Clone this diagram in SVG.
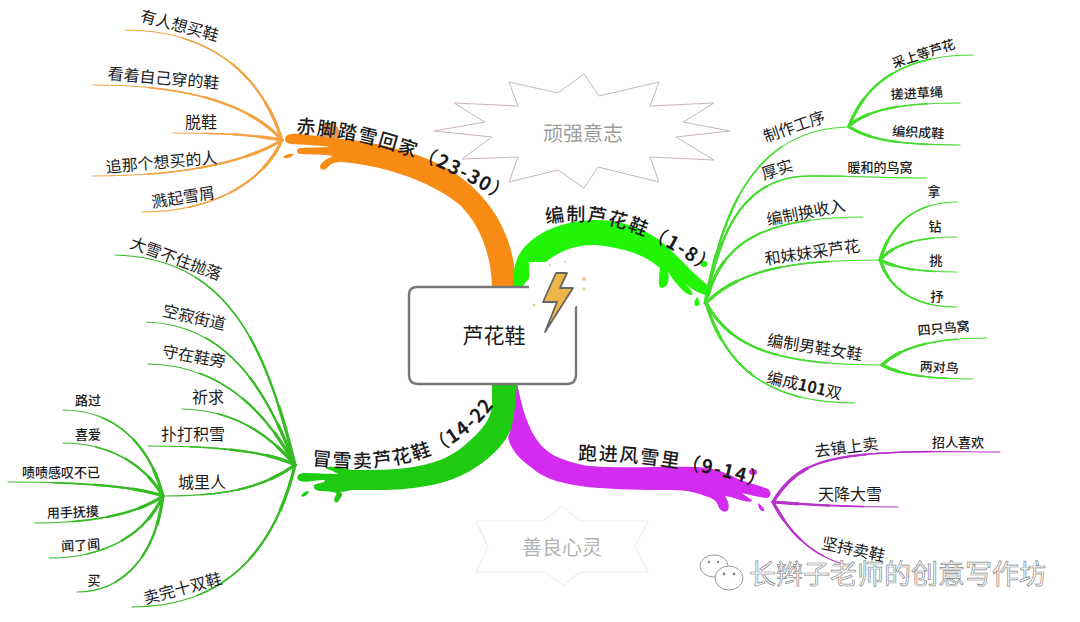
<svg xmlns="http://www.w3.org/2000/svg" xmlns:xlink="http://www.w3.org/1999/xlink" width="1080" height="622" viewBox="0 0 1080 622">
<style>
text{font-family:"Noto Sans CJK SC","Noto Sans CJK JP",sans-serif;fill:#1c1c1c;text-anchor:middle}
.l{font-size:16px}
.s{font-size:13px;font-weight:500}
.m{font-size:19px;font-weight:500;text-anchor:start;letter-spacing:1.5px}
.tree path{fill:none;stroke-linecap:round}
.base{stroke-width:1.1}
.t1{stroke-width:1.6;stroke-dasharray:72 200}
.t2{stroke-width:2.3;stroke-dasharray:45 200}
.t3{stroke-width:3.2;stroke-dasharray:20 200}
.cg{stroke:#45dc2e}.cd{stroke:#36bb24}.co{stroke:#f2a445}.cp{stroke:#b833cc}
.star{fill:#fff;stroke-linejoin:miter}
.wm{font-size:27px;fill:#fff;stroke:#8a8a8a;stroke-width:.7;text-anchor:start}
</style>
<defs>
<path id="pO" d="M296,133 Q400,138 500,200"/>
<path id="pG" d="M546,224 Q622,208 712,277"/>
<path id="pD" d="M312,465 C370,472 445,470 492,408"/>
<path id="pP" d="M578,460 Q670,460 756,486"/>
</defs>
<rect width="1080" height="622" fill="#fff"/>
<g id="decor-star1">
<polygon class="star" stroke="#c9b4bc" stroke-width="1" points="584,74 599,96 659,82 650,106 714,103 683,122 730,131 676,137 714,160 650,157 659,182 598,167 584,188 558,170 509,182 518,157 462,159 492,137 434,131 485,122 454,103 518,106 509,82 558,93"/>
<text x="583" y="141" font-size="20" style="fill:#9c9c9c;font-size:20px">顽强意志</text>
</g>
<g id="decor-star2">
<polygon class="star" stroke="#ecece6" stroke-width="1" points="562,506 580,521 648,521 635,547 648,572 580,572 563,585 545,572 476,572 488,547 476,521 543,521"/>
<text x="562" y="555" style="fill:#b4b4b4;font-size:20px">善良心灵</text>
</g>
<g id="connectors">
<g class="tree">
<g class="base cg"><g id="tG">
<path pathLength="100" d="M705,303 C718,240 740,130 847,127"/>
<path pathLength="100" d="M849,126 C865,85 900,55 973,55"/>
<path pathLength="100" d="M849,126 C870,108 905,103 960,103"/>
<path pathLength="100" d="M849,127 C870,140 900,145 960,145"/>
<path pathLength="100" d="M706,300 C722,220 750,176 810,176 S880,178 927,178"/>
<path pathLength="100" d="M708,296 C722,245 760,217 863,217"/>
<path pathLength="100" d="M707,302 C740,270 790,260 880,260"/>
<path pathLength="100" d="M880,260 C890,225 915,202 957,202"/>
<path pathLength="100" d="M880,260 C895,243 920,237 957,237"/>
<path pathLength="100" d="M880,260 C895,268 920,272 957,272"/>
<path pathLength="100" d="M880,260 C890,290 915,307 957,307"/>
<path pathLength="100" d="M706,303 C730,345 770,365 882,365"/>
<path pathLength="100" d="M882,365 C900,348 930,338 987,338"/>
<path pathLength="100" d="M882,365 C900,375 930,379 973,379"/>
<path pathLength="100" d="M706,303 C725,365 765,403 855,403"/>
</g></g>
<use href="#tG" class="t1 cg"/><use href="#tG" class="t2 cg"/><use href="#tG" class="t3 cg"/>
<g class="base cd"><g id="tD">
<path pathLength="100" d="M295,465 C265,340 225,258 115,255"/>
<path pathLength="100" d="M295,465 C265,385 225,325 147,322"/>
<path pathLength="100" d="M295,465 C265,410 220,365 148,364"/>
<path pathLength="100" d="M295,465 C265,430 230,410 182,409"/>
<path pathLength="100" d="M295,465 C265,450 210,446 148,446"/>
<path pathLength="100" d="M295,465 C260,490 220,496 163,496"/>
<path pathLength="100" d="M295,465 C275,550 225,607 132,607"/>
<path pathLength="100" d="M163,496 C150,445 115,410 63,410"/>
<path pathLength="100" d="M163,496 C145,465 110,443 63,443"/>
<path pathLength="100" d="M163,496 C130,485 70,482 8,482"/>
<path pathLength="100" d="M163,496 C135,515 90,523 35,523"/>
<path pathLength="100" d="M163,496 C145,535 105,558 49,558"/>
<path pathLength="100" d="M163,496 C155,560 120,592 77,592"/>
</g></g>
<use href="#tD" class="t1 cd"/><use href="#tD" class="t2 cd"/><use href="#tD" class="t3 cd"/>
<g class="base co"><g id="tO">
<path pathLength="100" d="M282,140 C260,70 205,30 125,30"/>
<path pathLength="100" d="M282,140 C250,105 190,85 93,85"/>
<path pathLength="100" d="M282,140 C250,134 210,133 173,133"/>
<path pathLength="100" d="M282,140 C250,160 190,176 93,176"/>
<path pathLength="100" d="M282,140 C265,180 215,212 142,212"/>
</g></g>
<use href="#tO" class="t1 co"/><use href="#tO" class="t2 co"/><use href="#tO" class="t3 co"/>
<g class="base cp"><g id="tP">
<path pathLength="100" d="M773,502 C795,465 825,458 870,454 S950,452 1000,452"/>
<path pathLength="100" d="M773,502 C810,505 850,507 898,507"/>
<path pathLength="100" d="M773,502 C790,535 815,558 850,566"/>
</g></g>
<use href="#tP" class="t1 cp"/><use href="#tP" class="t2 cp"/><use href="#tP" class="t3 cp"/>
</g>
</g>
<g id="branch-orange">
<path fill="#f78b14" d="M516,290 C516,235 490,195 450,170 C420,152 370,140 330,138 C315,136 300,133 291,134 C283,135 283,143 291,144 C303,145 318,145 330,147 L300,148 C296,149 296,153 300,154 C312,155 325,154 333,156 C326,159 320,163 320,167 C321,171 326,170 328,167 C331,163 336,162 342,162 C380,165 430,180 460,205 C480,225 492,255 492,290 Z"/>
<path fill="#f78b14" d="M283,157 C286,154 291,153 294,154 C292,157 286,160 283,157 Z"/>
<path fill="#d9701c" opacity=".75" d="M322,124 C330,120 338,124 339,131 L339,139 L322,137 Z"/>
<text class="m" letter-spacing="1.5"><textPath href="#pO">赤脚踏雪回家（<tspan font-weight="700">23-30</tspan>）</textPath></text>
</g>
<g id="branch-green">
<path fill="#22f406" d="M513,290 C513,270 515,260 522,250 C540,228 570,220 597,220 C625,220 650,232 663,243 C680,258 695,276 710,287 C712,292 710,296 706,295 C698,293 692,290 684,282 C690,288 694,294 692,295 C686,296 676,284 668,272 C670,280 668,287 662,288 C657,287 659,278 660,268 C652,262 640,250 597,245 C570,244 545,255 520,290 Z"/>
<path fill="#22f406" d="M697,297 C700,301 700,306 697,306 C693,306 694,301 697,297 Z"/>
<ellipse cx="704" cy="264" rx="3.5" ry="3" fill="#22f406"/>
<text class="m"><textPath href="#pG">编制芦花鞋（<tspan font-weight="700">1-8</tspan>）</textPath></text>
</g>
<g id="branch-darkgreen">
<path fill="#1fcb11" d="M492,380 L517,380 L517,403 C517,420 510,437 495,452 C475,472 450,483 420,487 C395,491 375,490 353,490 C345,491 350,491 340,492 C345,494 340,498 338,502 C334,504 333,499 336,495 C338,492 333,492 322,491 C313,491 312,486 316,484 C322,483 325,482 325,480 C315,480 305,483 300,481 C295,478 297,473 305,473 C315,473 325,474 338,474 C332,470 328,470 326,468 C328,465 338,468 353,470 C375,470 395,470 413,467 C435,463 450,458 465,445 C480,432 492,420 492,403 Z"/>
<path fill="#1fcb11" d="M301,496 C303,492 307,491 309,491 C308,495 303,498 301,496 Z"/>
<text class="m"><textPath href="#pD">冒雪卖芦花鞋（<tspan font-weight="700">14-22</tspan>）</textPath></text>
</g>
<g id="branch-purple">
<path fill="#d32cf0" d="M517,382 C521,405 526,420 532,432 C540,447 550,455 565,460 C580,465 590,467 610,467 C640,468 670,466 697,467 C715,468 725,472 738,479 C748,483 762,486 768,489 C772,492 771,498 766,498 C758,497 750,495 742,493 C745,496 752,499 752,501 C748,504 735,497 725,496 C728,501 730,505 728,510 C724,514 719,510 718,505 C716,500 712,498 705,496 C690,490 680,490 660,490 C630,490 610,489 587,487 C565,484 545,480 532,468 C518,458 510,448 508,437 C514,425 516,400 517,382 Z"/>
<path fill="#d32cf0" d="M758,503 C761,505 765,509 764,511 C761,512 758,508 758,503 Z"/>
<ellipse cx="753" cy="472" rx="4" ry="3" fill="#d32cf0"/>
<text class="m"><textPath href="#pP">跑进风雪里（<tspan font-weight="700">9-14</tspan>）</textPath></text>
</g>
<g id="root">
<path d="M529,287 H417 Q409,287 409,295 V375 Q409,384 418,384 H567 Q576,384 576,375 V306" fill="#fff" stroke="#777" stroke-width="2.4"/>
<path fill="#fff" d="M529,262 H590 V306 H576 L550,345 L529,300 Z"/>
<polygon fill="#eeb548" stroke="#666" stroke-width="1.8" stroke-linejoin="round" points="567,273 556,273 543,302 557,302 545,332 573,288 560,288"/>
<g fill="#e6cf8a"><circle cx="584" cy="279" r="2"/><circle cx="584" cy="289" r="1.4"/><circle cx="534" cy="305" r="1.6"/><circle cx="550" cy="265" r="1"/><circle cx="565" cy="262" r="1"/></g>
<text x="494" y="343" style="font-size:21px">芦花鞋</text>
</g>
<g id="n-right">
<text class="l" transform="translate(796,132) rotate(-19)">制作工序</text>
<text class="s" transform="translate(925,58) rotate(-18)">采上等芦花</text>
<text class="s" transform="translate(917,98) rotate(-3)">搓进草绳</text>
<text class="s" transform="translate(918,137) rotate(3)">编织成鞋</text>
<text class="l" transform="translate(779,175) rotate(-18)">厚实</text>
<text class="s" x="880" y="172">暖和的鸟窝</text>
<text class="l" transform="translate(807,218) rotate(-11)">编制换收入</text>
<text class="l" transform="translate(813,258) rotate(-8)">和妹妹采芦花</text>
<text class="s" x="934" y="196">拿</text>
<text class="s" x="935" y="231">钻</text>
<text class="s" x="936" y="265">挑</text>
<text class="s" x="937" y="301">抒</text>
<text class="l" transform="translate(814,353) rotate(9)">编制男鞋女鞋</text>
<text class="s" transform="translate(944,333) rotate(-5)">四只鸟窝</text>
<text class="s" transform="translate(939,372) rotate(3)">两对鸟</text>
<text class="l" transform="translate(803,391) rotate(13)">编成<tspan font-weight="700">101</tspan>双</text>
</g>
<g id="n-orange">
<text class="l" transform="translate(178,31) rotate(15)">有人想买鞋</text>
<text class="l" transform="translate(163,84) rotate(5)">看着自己穿的鞋</text>
<text class="l" x="201" y="128">脱鞋</text>
<text class="l" transform="translate(162,168) rotate(-5)">追那个想买的人</text>
<text class="l" transform="translate(184,203) rotate(-9)">溅起雪屑</text>
</g>
<g id="n-left">
<text class="l" transform="translate(174,264) rotate(20)">大雪不住抛落</text>
<text class="l" transform="translate(193,323) rotate(13)">空寂街道</text>
<text class="l" transform="translate(193,362) rotate(10)">守在鞋旁</text>
<text class="l" x="208" y="403">祈求</text>
<text class="l" x="193" y="440">扑打积雪</text>
<text class="l" x="202" y="488">城里人</text>
<text class="l" transform="translate(184,594) rotate(-15)">卖完十双鞋</text>
<text class="s" x="88" y="405">路过</text>
<text class="s" x="88" y="439">喜爱</text>
<text class="s" x="61" y="477">啧啧感叹不已</text>
<text class="s" transform="translate(73,517) rotate(-2)">用手抚摸</text>
<text class="s" transform="translate(81,550) rotate(-4)">闻了闻</text>
<text class="s" x="94" y="585">买</text>
</g>
<g id="n-purple">
<text class="l" transform="translate(847,453) rotate(-7)">去镇上卖</text>
<text class="s" x="958" y="447">招人喜欢</text>
<text class="l" x="850" y="500">天降大雪</text>
<text class="l" transform="translate(852,555) rotate(12)">坚持卖鞋</text>
</g>
<g id="watermark">
<ellipse cx="714" cy="566" rx="14" ry="11" fill="#fff" stroke="#999" stroke-width="1"/>
<ellipse cx="729" cy="578" rx="14" ry="12" fill="#fff" stroke="#999" stroke-width="1"/>
<circle cx="724" cy="574" r="1.4" fill="#888"/><circle cx="734" cy="574" r="1.4" fill="#888"/><circle cx="709" cy="562" r="1.2" fill="#888"/><circle cx="718" cy="562" r="1.2" fill="#888"/>
<text class="wm" x="749" y="584">长辫子老师的创意写作坊</text>
</g>
</svg>
